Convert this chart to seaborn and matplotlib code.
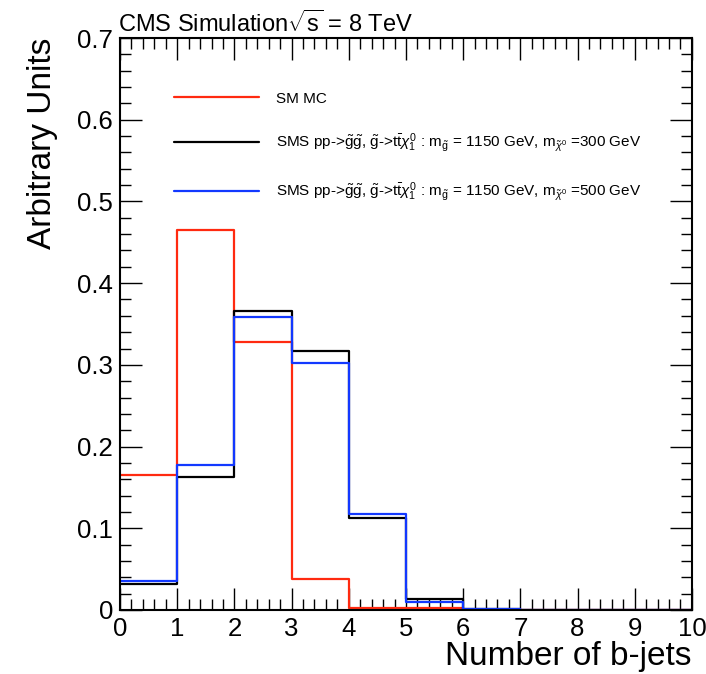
import numpy as np
import pandas as pd
import matplotlib
matplotlib.use("Agg")
import matplotlib.pyplot as plt
import seaborn as sns
from matplotlib.ticker import MultipleLocator

# ---- data ----
bin_edges = [0, 1, 2, 3, 4, 5, 6, 7, 8, 9, 10]
bin_centers = [0.5, 1.5, 2.5, 3.5, 4.5, 5.5, 6.5, 7.5, 8.5, 9.5]
sm_mc = [0.165, 0.465, 0.328, 0.0385, 0.003, 0.002, 0.0005, 0.0003, 0.0002, 0.0001]
sms_300 = [0.0316, 0.163, 0.366, 0.317, 0.112, 0.013, 0.0006, 0.0003, 0.0002, 0.0001]
sms_500 = [0.035, 0.178, 0.358, 0.302, 0.118, 0.010, 0.0006, 0.0003, 0.0002, 0.0001]

labels = [
    "SM MC",
    r"SMS pp->$\tilde{\mathrm{g}}\tilde{\mathrm{g}}$, $\tilde{\mathrm{g}}$->t$\bar{\mathrm{t}}\chi^0_1$ : m$_{\tilde{\mathrm{g}}}$ = 1150 GeV, m$_{\tilde{\chi}^0}$ =300 GeV",
    r"SMS pp->$\tilde{\mathrm{g}}\tilde{\mathrm{g}}$, $\tilde{\mathrm{g}}$->t$\bar{\mathrm{t}}\chi^0_1$ : m$_{\tilde{\mathrm{g}}}$ = 1150 GeV, m$_{\tilde{\chi}^0}$ =500 GeV",
]
colors = ["#ff2a10", "#000000", "#1238ff"]

df = pd.DataFrame({
    "nb": bin_centers * 3,
    "w": sm_mc + sms_300 + sms_500,
    "sample": [labels[0]] * 10 + [labels[1]] * 10 + [labels[2]] * 10,
})

sns.set_style("ticks")
plt.rcParams["font.family"] = ["Liberation Sans", "DejaVu Sans"]
plt.rcParams["mathtext.fontset"] = "custom"
plt.rcParams["mathtext.rm"] = "Liberation Sans"
plt.rcParams["mathtext.it"] = "Liberation Sans:italic"
plt.rcParams["mathtext.bf"] = "Liberation Sans:bold"
plt.rcParams["text.color"] = "black"
plt.rcParams["axes.labelcolor"] = "black"
plt.rcParams["xtick.color"] = "black"
plt.rcParams["ytick.color"] = "black"
plt.rcParams["axes.edgecolor"] = "black"

fig = plt.figure(figsize=(7.06, 6.74), dpi=100)
ax = fig.add_axes([0.170, 0.095, 0.810, 0.8486])

for lab, col in zip(labels, colors):
    sub = df[df["sample"] == lab]
    sns.histplot(data=sub, x="nb", weights="w", bins=bin_edges, element="step",
                 fill=False, color=col, linewidth=1.6, ax=ax, label=lab)

ax.set_xlim(0, 10)
ax.set_ylim(0, 0.7)
ax.xaxis.set_major_locator(MultipleLocator(1))
ax.xaxis.set_minor_locator(MultipleLocator(0.2))
ax.yaxis.set_major_locator(MultipleLocator(0.1))
ax.yaxis.set_minor_locator(MultipleLocator(0.02))
ax.yaxis.set_major_formatter(matplotlib.ticker.FuncFormatter(lambda v, p: "0" if abs(v) < 1e-9 else f"{v:.1f}"))
ax.tick_params(which="both", direction="in", top=True, right=True, labelsize=18.5, width=1)
ax.tick_params(which="major", length=16)
ax.tick_params(which="minor", length=8)
ax.tick_params(axis="x", which="major", pad=5)
ax.tick_params(axis="y", which="major", pad=5)
for s in ax.spines.values():
    s.set_linewidth(1.5)

ax.set_xlabel("Number of b-jets", fontsize=24, loc="right", labelpad=0)
ax.set_ylabel("Arbitrary Units", fontsize=24, loc="top", labelpad=14)

ax.text(-0.003, 1.002, r"CMS Simulation$\sqrt{\mathrm{s}}$ = 8 TeV", transform=ax.transAxes,
        fontsize=17, ha="left", va="bottom")

ax.legend(loc="upper left", bbox_to_anchor=(0.07, 0.93), frameon=False, fontsize=11,
          handlelength=5.6, handletextpad=1.1, labelspacing=1.7)

fig.savefig("out.png", dpi=100)
